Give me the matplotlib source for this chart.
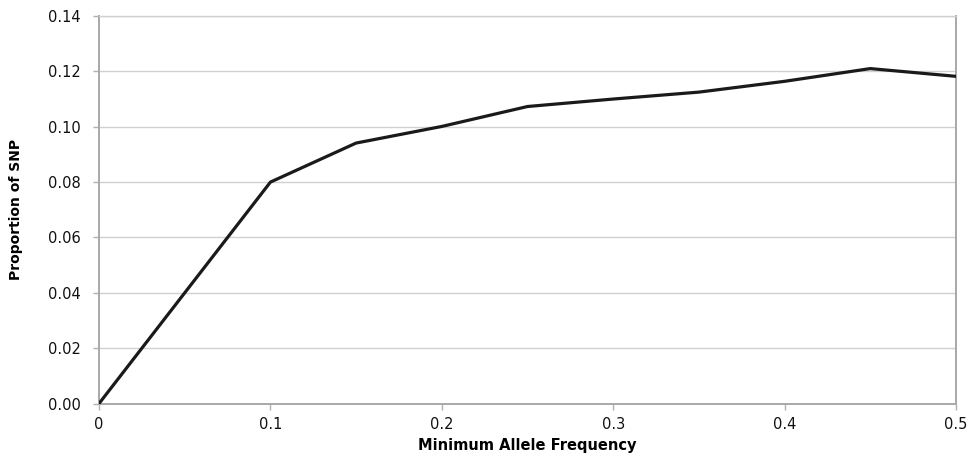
import matplotlib
matplotlib.use('Agg')
import matplotlib.pyplot as plt
import numpy as np

# minimum allele frequency bins and proportion of SNPs
maf = [0.0, 0.05, 0.1, 0.15, 0.2, 0.25, 0.3, 0.35, 0.4, 0.45, 0.5]
prop_snp = [0.0, 0.040, 0.080, 0.0941, 0.1001, 0.1073, 0.1100, 0.1125, 0.1164, 0.1210, 0.1182]

xticks = [0, 0.1, 0.2, 0.3, 0.4, 0.5]
xtick_labels = ['0', '0.1', '0.2', '0.3', '0.4', '0.5']
yticks = [0.0, 0.02, 0.04, 0.06, 0.08, 0.10, 0.12, 0.14]

plt.rcParams['font.family'] = ['DejaVu Sans']

fig = plt.figure(figsize=(9.72, 4.57), dpi=100)
ax = fig.add_axes([0.1019, 0.117, 0.8816, 0.848])

ax.plot(maf, prop_snp, color='#1a1a1a', lw=2.3, solid_joinstyle='miter', zorder=3)

ax.set_xlim(0, 0.5)
ax.set_ylim(0, 0.14)
ax.set_xticks(xticks)
ax.set_xticklabels(xtick_labels)
ax.set_yticks(yticks)
ax.set_yticklabels(['%.2f' % v for v in yticks])

ax.yaxis.grid(True, color='#d0d0d0', lw=1)
ax.set_axisbelow(True)

for s in ax.spines.values():
    s.set_color('#a8a8a8')
    s.set_linewidth(1.4)
ax.spines['top'].set_color('#d0d0d0')
ax.spines['top'].set_linewidth(1)

ax.tick_params(axis='both', colors='#b0b0b0', labelcolor='#111111',
               labelsize=10.5, length=4, width=1)
ax.tick_params(axis='x', pad=6)
ax.tick_params(axis='y', pad=9)

ax.set_xlabel('Minimum Allele Frequency', fontsize=10.5, fontweight='bold', labelpad=4)
ax.set_ylabel('Proportion of SNP', fontsize=10, fontweight='bold', labelpad=18)

fig.savefig('out.png', dpi=100)
